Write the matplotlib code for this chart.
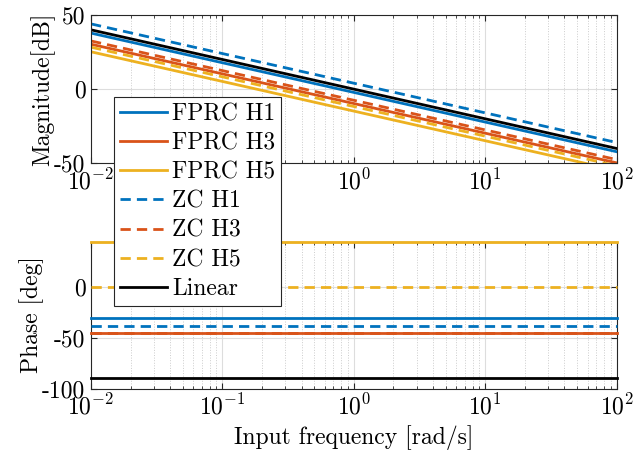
import numpy as np
import matplotlib
matplotlib.use('Agg')
import matplotlib.pyplot as plt
from matplotlib.ticker import LogLocator, NullFormatter

plt.rcParams['font.family'] = 'serif'
plt.rcParams['font.serif'] = ['cmr10']
plt.rcParams['mathtext.fontset'] = 'cm'
plt.rcParams['axes.formatter.use_mathtext'] = True
plt.rcParams['axes.unicode_minus'] = False

# frequency range (rad/s) - line endpoints
freq = [1e-2, 1e2]

labels = ['FPRC H1', 'FPRC H3', 'FPRC H5', 'ZC H1', 'ZC H3', 'ZC H5', 'Linear']
colors = ['#0072BD', '#D95319', '#EDB120', '#0072BD', '#D95319', '#EDB120', 'black']
styles = ['-', '-', '-', '--', '--', '--', '-']

# magnitude [dB] at the two ends of the frequency range
mag_lo = [37.8, 30.3, 25.2, 44.0, 32.5, 28.3, 40.0]
mag_hi = [-42.2, -49.7, -54.8, -36.0, -47.5, -51.7, -40.0]

# phase [deg], flat over the range
phase = [-30.3, -45.4, 45.0, -38.5, -45.4, 0.0, -90.0]

mag_ticks = [-50, 0, 50]
mag_ticklabels = ['-50', '0', '50']
phase_ticks = [-100, -50, 0]
phase_ticklabels = ['-100', '-50', '0']

FS = 17
W, H = 634, 454
fig = plt.figure(figsize=(W / 100, H / 100), dpi=100)
ax1 = fig.add_axes([91 / W, 1 - 163.3 / H, (616.7 - 91) / W, (163.3 - 15) / H])
ax2 = fig.add_axes([91 / W, 1 - 388.5 / H, (616.7 - 91) / W, (388.5 - 241.5) / H])

handles = []
for i in range(len(labels)):
    dash = (3.7, 2.2) if styles[i] == '--' else (None, None)
    h, = ax1.plot(freq, [mag_lo[i], mag_hi[i]], color=colors[i], linestyle=styles[i],
                  linewidth=2, label=labels[i], dashes=dash)
    handles.append(h)
    ax2.plot(freq, [phase[i], phase[i]], color=colors[i], linestyle=styles[i],
             linewidth=2, dashes=dash, clip_on=False, zorder=3)

for ax in (ax1, ax2):
    ax.set_xscale('log')
    ax.set_xlim(1e-2, 1e2)
    ax.xaxis.set_major_locator(LogLocator(base=10, numticks=10))
    ax.xaxis.set_minor_locator(LogLocator(base=10, subs=np.arange(2, 10), numticks=20))
    ax.xaxis.set_minor_formatter(NullFormatter())
    ax.tick_params(which='both', direction='in', top=True, right=True, labelsize=FS, color='#262626')
    ax.tick_params(which='major', length=4, pad=4)
    ax.tick_params(which='minor', length=2.5)
    ax.grid(True, which='major', color='#dddddd', linewidth=0.8)
    ax.grid(True, which='minor', axis='x', color='#cccccc', linestyle=':', linewidth=0.7)
    for s in ax.spines.values():
        s.set_color('#262626')
        s.set_linewidth(0.8)

ax1.set_ylim(-50, 50)
ax1.set_yticks(mag_ticks)
ax1.set_yticklabels(mag_ticklabels)
ax1.set_ylabel('Magnitude[dB]', fontsize=FS, labelpad=-1)

ax2.set_ylim(-100, 45)
ax2.set_yticks(phase_ticks)
ax2.set_yticklabels(phase_ticklabels)
ax2.set_ylabel('Phase [deg]', fontsize=FS, labelpad=-1)
ax2.set_xlabel('Input frequency [rad/s]', fontsize=FS, labelpad=4)

leg = fig.legend(handles=handles, loc='upper left', bbox_to_anchor=(114 / W, 1 - 97 / H),
                 fontsize=FS, frameon=True, fancybox=False, framealpha=1,
                 edgecolor='#262626', handlelength=2.0, handletextpad=0.2,
                 labelspacing=0.3, borderpad=0.25, borderaxespad=0)
leg.get_frame().set_linewidth(0.8)

fig.savefig('out.png', dpi=100)
